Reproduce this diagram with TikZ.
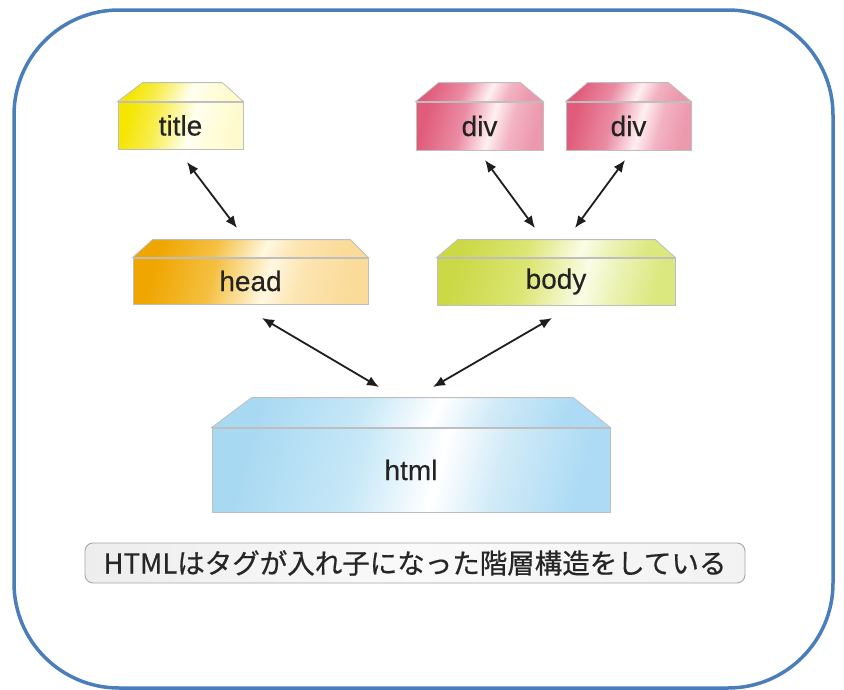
\documentclass[tikz,border=0pt]{standalone}
\usepackage{fontspec}
\setmainfont{Liberation Sans}
\newfontfamily\jpfont[FakeBold=0.6]{Noto Sans CJK JP}
\newfontfamily\lblfont[FakeBold=0.3]{Liberation Sans}
\usetikzlibrary{arrows.meta}

\pgfdeclarehorizontalshading{shtitle}{100bp}{rgb(0bp)=(0.96,0.90,0.0); rgb(25bp)=(0.96,0.90,0.0); rgb(38bp)=(0.97,0.93,0.30); rgb(55bp)=(1,1,0.94); rgb(65bp)=(1,0.99,0.86); rgb(75bp)=(1,0.98,0.80); rgb(100bp)=(1,0.98,0.80)}
\pgfdeclarehorizontalshading{shhead}{100bp}{rgb(0bp)=(0.94,0.65,0.0); rgb(25bp)=(0.94,0.65,0.0); rgb(40bp)=(0.96,0.75,0.25); rgb(54bp)=(1,0.97,0.88); rgb(62bp)=(0.99,0.90,0.70); rgb(75bp)=(0.98,0.86,0.60); rgb(100bp)=(0.98,0.86,0.60)}
\pgfdeclarehorizontalshading{shbody}{100bp}{rgb(0bp)=(0.80,0.85,0.28); rgb(25bp)=(0.80,0.85,0.28); rgb(42bp)=(0.86,0.90,0.45); rgb(57bp)=(0.98,0.99,0.90); rgb(65bp)=(0.92,0.95,0.70); rgb(75bp)=(0.86,0.91,0.50); rgb(100bp)=(0.86,0.91,0.50)}
\pgfdeclarehorizontalshading{shdiv}{100bp}{rgb(0bp)=(0.88,0.36,0.48); rgb(25bp)=(0.88,0.36,0.48); rgb(42bp)=(0.92,0.55,0.64); rgb(55bp)=(1,0.94,0.95); rgb(64bp)=(0.95,0.70,0.76); rgb(75bp)=(0.93,0.60,0.68); rgb(100bp)=(0.93,0.60,0.68)}
\pgfdeclarehorizontalshading{shhtml}{100bp}{rgb(0bp)=(0.66,0.85,0.95); rgb(25bp)=(0.66,0.85,0.95); rgb(42bp)=(0.78,0.91,0.97); rgb(54bp)=(1,1,1); rgb(63bp)=(0.82,0.92,0.97); rgb(75bp)=(0.68,0.86,0.96); rgb(100bp)=(0.68,0.86,0.96)}
\pgfdeclarehorizontalshading{shcap}{100bp}{rgb(0bp)=(0.93,0.93,0.93); rgb(25bp)=(0.93,0.93,0.93); rgb(50bp)=(0.98,0.98,0.98); rgb(75bp)=(0.95,0.95,0.95); rgb(100bp)=(0.95,0.95,0.95)}

\definecolor{frameblue}{RGB}{74,126,187}
\definecolor{edgegray}{RGB}{190,190,190}
\definecolor{txt}{RGB}{35,35,35}
\definecolor{arrowc}{RGB}{30,30,30}

\tikzset{
  boxfront/.style={shade, shading=#1, shading angle=-15, draw=edgegray, line width=0.8pt,
    inner sep=0pt, text=txt, font=\lblfont\fontsize{28}{32}\selectfont},
  boxtop/.style={shade, shading=#1, shading angle=-25, draw=edgegray, line width=0.8pt},
  arr/.style={{Latex[length=12pt,width=10pt]}-{Latex[length=12pt,width=10pt]}, line width=1.8pt, draw=arrowc},
  frame/.style={draw=frameblue, line width=3.5pt, rounded corners=105pt},
  capbox/.style={shade, shading=shcap, draw=gray!70, line width=0.9pt, rounded corners=8pt,
    minimum width=660pt, minimum height=40pt, inner sep=0pt, text=black!85,
    font=\jpfont\fontsize{27.5}{30}\selectfont}
}

\begin{document}
\begin{tikzpicture}[x=1pt,y=-1pt]
\useasboundingbox (0,0) rectangle (844,689);
\fill[white] (0,0) rectangle (844,689);
\draw[frame] (14,10) rectangle (833,688);

% front faces
\node[boxfront=shtitle, minimum width=125pt, minimum height=47pt] (title) at (180.5,125.5) {title};
\node[boxfront=shdiv, minimum width=127pt, minimum height=48pt] (div1) at (479.5,126) {div};
\node[boxfront=shdiv, minimum width=125pt, minimum height=48pt] (div2) at (628.5,126) {div};
\node[boxfront=shhead, minimum width=235pt, minimum height=46pt] (head) at (250.5,281) {head};
\node[boxfront=shbody, minimum width=238pt, minimum height=47pt] (body) at (556,281.5) {body};
\node[boxfront=shhtml, minimum width=398pt, minimum height=84pt] (html) at (411,470) {html};

% top faces
\draw[boxtop=shtitle] (title.north west) -- ++(25,-19) -- ([xshift=-21pt,yshift=19pt]title.north east) -- (title.north east) -- cycle;
\draw[boxtop=shdiv] (div1.north west) -- ++(23,-19) -- ([xshift=-23pt,yshift=19pt]div1.north east) -- (div1.north east) -- cycle;
\draw[boxtop=shdiv] (div2.north west) -- ++(22,-19) -- ([xshift=-23pt,yshift=19pt]div2.north east) -- (div2.north east) -- cycle;
\draw[boxtop=shhead] (head.north west) -- ++(20,-18) -- ([xshift=-18pt,yshift=18pt]head.north east) -- (head.north east) -- cycle;
\draw[boxtop=shbody] (body.north west) -- ++(21,-18) -- ([xshift=-20pt,yshift=18pt]body.north east) -- (body.north east) -- cycle;
\draw[boxtop=shhtml] (html.north west) -- ++(40,-30) -- ([xshift=-37pt,yshift=30pt]html.north east) -- (html.north east) -- cycle;

% arrow end points
\coordinate (t1) at (187,162); \coordinate (h1) at (237,228);
\coordinate (d1) at (485,160); \coordinate (b1) at (535,228);
\coordinate (d2) at (625,160); \coordinate (b2) at (575,228);
\coordinate (h2) at (262,318); \coordinate (m1) at (379,387);
\coordinate (b3) at (552,318); \coordinate (m2) at (433,387);

\draw[arr] (t1) -- (h1);
\draw[arr] (d1) -- (b1);
\draw[arr] (d2) -- (b2);
\draw[arr] (h2) -- (m1);
\draw[arr] (b3) -- (m2);

\node[capbox] (cap) at (415,563) {HTMLはタグが入れ子になった階層構造をしている};
\end{tikzpicture}
\end{document}
